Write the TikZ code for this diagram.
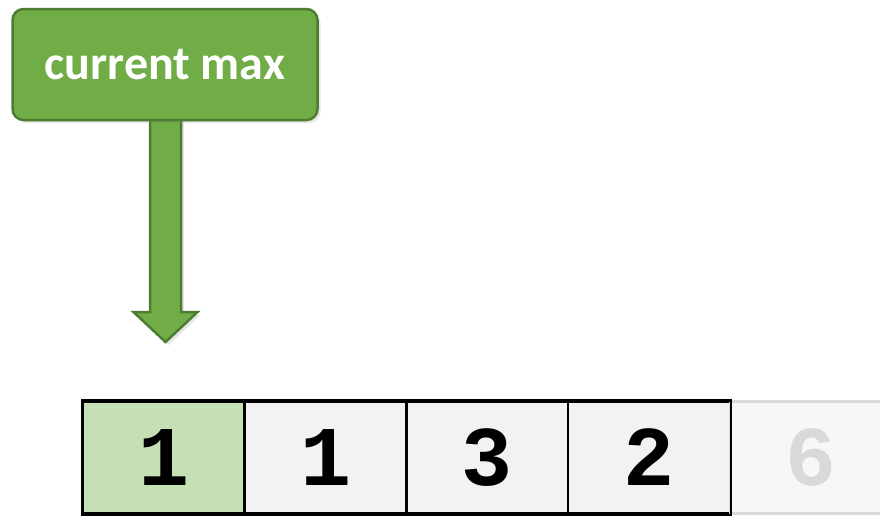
\documentclass[tikz,border=0pt]{standalone}
\usepackage{fontspec}
\newfontfamily\labelfont{Carlito}
\newfontfamily\cellfont{Liberation Mono}
\usepackage{tikz}
\usetikzlibrary{calc,shadows}
\definecolor{maxgreen}{HTML}{70AD47}
\definecolor{maxedge}{HTML}{4E7D31}
\definecolor{pickcell}{HTML}{C5E0B4}
\definecolor{cellgrey}{HTML}{F2F2F2}
\definecolor{fadegrey}{HTML}{D9D9D9}
\tikzset{
  cell/.style={draw=black,line width=2.5pt,fill=cellgrey,minimum width=161.75pt,
    minimum height=112pt,inner sep=0pt,font=\cellfont\bfseries\fontsize{85}{85}\selectfont},
  greenbox/.style={draw=maxedge,line width=2.5pt,fill=maxgreen,rounded corners=11pt,
    drop shadow={opacity=0.2,shadow xshift=3pt,shadow yshift=-3pt}}
}

\begin{document}
\begin{tikzpicture}[x=1pt,y=-1pt]
\useasboundingbox (0,0) rectangle (880,515);
\clip (0,0) rectangle (880,515);
% pointer box and block arrow
\coordinate (top) at (165.5,118);
\coordinate (tip) at (165.5,342);
\filldraw[fill=maxgreen,draw=maxedge,line width=2.5pt,
  drop shadow={opacity=0.2,shadow xshift=3pt,shadow yshift=-3pt}]
  ($(top)+(-15.5,0)$)--($(top)+(15.5,0)$)--($(tip)+(15.5,-30)$)
  --($(tip)+(32,-30)$)--(tip)--($(tip)+(-32,-30)$)--($(tip)+(-15.5,-30)$)--cycle;
\node[greenbox,minimum width=305pt,minimum height=111pt,text=white,
  font=\labelfont\bfseries\fontsize{48}{48}\selectfont](cmax) at (165,64.5){current max};
% array cells
\node[cell,fill=pickcell](c1) at (163.9,457.5){1};
\node[cell](c2) at (325.6,457.5){1};
\node[cell](c3) at (487.4,457.5){3};
\node[cell](c4) at (649.1,457.5){2};
\node[cell,draw=fadegrey,fill=white!97!black,text=fadegrey](c5) at (810.9,457.5){6};
\draw[line width=2.5pt](c1.north west)rectangle(c4.south east);

\end{tikzpicture}
\end{document}
